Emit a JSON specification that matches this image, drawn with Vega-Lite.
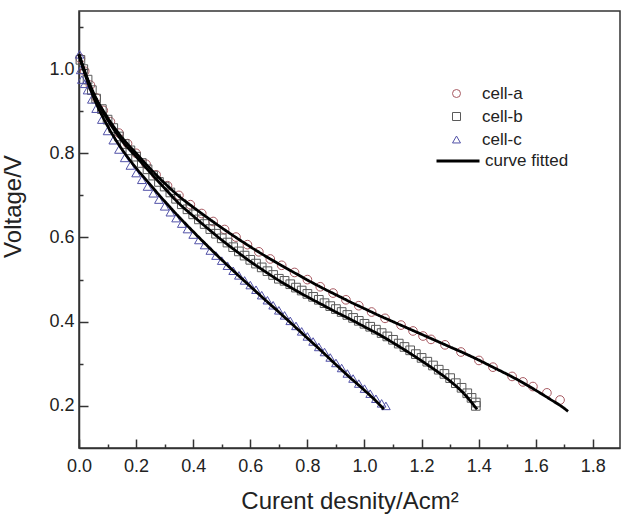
{
"$schema": "https://vega.github.io/schema/vega-lite/v6.json",
"width": 541, "height": 437,
"autosize": {"type": "none"},
"padding": {"left": 79, "top": 11, "right": 1, "bottom": 67},
"background": "white",
"config": {
  "view": {"stroke": "#333", "strokeWidth": 1.5},
  "font": "Liberation Sans",
  "axis": {"domainColor": "#333", "domainWidth": 1.5, "tickColor": "#333", "tickWidth": 1.5, "labelFont": "Liberation Sans", "labelFontSize": 18, "labelColor": "#222", "titleFont": "Liberation Sans", "titleFontSize": 24, "titleFontWeight": "normal", "titleColor": "#222", "grid": false},
  "legend": {"labelFont": "Liberation Sans", "labelFontSize": 17, "labelColor": "#222", "padding": 0}
},
"datasets": {
 "markers": [
  {"cell":"cell-a","j":0.005,"v":1.025},{"cell":"cell-a","j":0.02,"v":0.995},{"cell":"cell-a","j":0.04,"v":0.962},{"cell":"cell-a","j":0.06,"v":0.932},{"cell":"cell-a","j":0.085,"v":0.902},{"cell":"cell-a","j":0.11,"v":0.875},{"cell":"cell-a","j":0.14,"v":0.848},{"cell":"cell-a","j":0.17,"v":0.823},{"cell":"cell-a","j":0.2,"v":0.8},{"cell":"cell-a","j":0.235,"v":0.774},{"cell":"cell-a","j":0.27,"v":0.749},{"cell":"cell-a","j":0.31,"v":0.723},{"cell":"cell-a","j":0.35,"v":0.7},{"cell":"cell-a","j":0.39,"v":0.678},{"cell":"cell-a","j":0.43,"v":0.657},{"cell":"cell-a","j":0.47,"v":0.638},{"cell":"cell-a","j":0.51,"v":0.619},{"cell":"cell-a","j":0.55,"v":0.601},{"cell":"cell-a","j":0.59,"v":0.583},{"cell":"cell-a","j":0.63,"v":0.566},{"cell":"cell-a","j":0.67,"v":0.549},{"cell":"cell-a","j":0.71,"v":0.534},{"cell":"cell-a","j":0.755,"v":0.517},{"cell":"cell-a","j":0.8,"v":0.5},{"cell":"cell-a","j":0.845,"v":0.483},{"cell":"cell-a","j":0.89,"v":0.468},{"cell":"cell-a","j":0.935,"v":0.452},{"cell":"cell-a","j":0.98,"v":0.438},{"cell":"cell-a","j":1.025,"v":0.423},{"cell":"cell-a","j":1.072,"v":0.408},{"cell":"cell-a","j":1.128,"v":0.392},{"cell":"cell-a","j":1.17,"v":0.378},{"cell":"cell-a","j":1.205,"v":0.366},{"cell":"cell-a","j":1.233,"v":0.358},{"cell":"cell-a","j":1.282,"v":0.345},{"cell":"cell-a","j":1.338,"v":0.328},{"cell":"cell-a","j":1.401,"v":0.308},{"cell":"cell-a","j":1.45,"v":0.292},{"cell":"cell-a","j":1.517,"v":0.27},{"cell":"cell-a","j":1.555,"v":0.257},{"cell":"cell-a","j":1.59,"v":0.246},{"cell":"cell-a","j":1.639,"v":0.231},{"cell":"cell-a","j":1.685,"v":0.214},
  {"cell":"cell-b","j":0.005,"v":1.022},{"cell":"cell-b","j":0.015,"v":1.0},{"cell":"cell-b","j":0.03,"v":0.975},{"cell":"cell-b","j":0.045,"v":0.95},{"cell":"cell-b","j":0.06,"v":0.93},{"cell":"cell-b","j":0.08,"v":0.905},{"cell":"cell-b","j":0.1,"v":0.88},{"cell":"cell-b","j":0.12,"v":0.86},{"cell":"cell-b","j":0.14,"v":0.84},{"cell":"cell-b","j":0.16,"v":0.822},{"cell":"cell-b","j":0.18,"v":0.807},{"cell":"cell-b","j":0.2,"v":0.792},{"cell":"cell-b","j":0.22,"v":0.777},{"cell":"cell-b","j":0.24,"v":0.762},{"cell":"cell-b","j":0.26,"v":0.747},{"cell":"cell-b","j":0.28,"v":0.732},{"cell":"cell-b","j":0.3,"v":0.721},{"cell":"cell-b","j":0.32,"v":0.707},{"cell":"cell-b","j":0.34,"v":0.692},{"cell":"cell-b","j":0.36,"v":0.679},{"cell":"cell-b","j":0.38,"v":0.667},{"cell":"cell-b","j":0.4,"v":0.655},{"cell":"cell-b","j":0.42,"v":0.643},{"cell":"cell-b","j":0.44,"v":0.632},{"cell":"cell-b","j":0.46,"v":0.62},{"cell":"cell-b","j":0.48,"v":0.609},{"cell":"cell-b","j":0.5,"v":0.598},{"cell":"cell-b","j":0.52,"v":0.588},{"cell":"cell-b","j":0.54,"v":0.577},{"cell":"cell-b","j":0.56,"v":0.567},{"cell":"cell-b","j":0.58,"v":0.557},{"cell":"cell-b","j":0.6,"v":0.547},{"cell":"cell-b","j":0.62,"v":0.538},{"cell":"cell-b","j":0.64,"v":0.529},{"cell":"cell-b","j":0.66,"v":0.52},{"cell":"cell-b","j":0.68,"v":0.511},{"cell":"cell-b","j":0.7,"v":0.502},{"cell":"cell-b","j":0.72,"v":0.497},{"cell":"cell-b","j":0.74,"v":0.489},{"cell":"cell-b","j":0.76,"v":0.481},{"cell":"cell-b","j":0.78,"v":0.474},{"cell":"cell-b","j":0.8,"v":0.466},{"cell":"cell-b","j":0.82,"v":0.459},{"cell":"cell-b","j":0.84,"v":0.452},{"cell":"cell-b","j":0.86,"v":0.444},{"cell":"cell-b","j":0.88,"v":0.437},{"cell":"cell-b","j":0.9,"v":0.43},{"cell":"cell-b","j":0.92,"v":0.423},{"cell":"cell-b","j":0.94,"v":0.416},{"cell":"cell-b","j":0.96,"v":0.409},{"cell":"cell-b","j":0.98,"v":0.402},{"cell":"cell-b","j":1.0,"v":0.395},{"cell":"cell-b","j":1.02,"v":0.388},{"cell":"cell-b","j":1.04,"v":0.381},{"cell":"cell-b","j":1.06,"v":0.373},{"cell":"cell-b","j":1.08,"v":0.365},{"cell":"cell-b","j":1.1,"v":0.357},{"cell":"cell-b","j":1.12,"v":0.348},{"cell":"cell-b","j":1.14,"v":0.34},{"cell":"cell-b","j":1.16,"v":0.332},{"cell":"cell-b","j":1.18,"v":0.323},{"cell":"cell-b","j":1.2,"v":0.314},{"cell":"cell-b","j":1.22,"v":0.305},{"cell":"cell-b","j":1.24,"v":0.296},{"cell":"cell-b","j":1.26,"v":0.286},{"cell":"cell-b","j":1.28,"v":0.276},{"cell":"cell-b","j":1.3,"v":0.266},{"cell":"cell-b","j":1.32,"v":0.254},{"cell":"cell-b","j":1.34,"v":0.243},{"cell":"cell-b","j":1.36,"v":0.23},{"cell":"cell-b","j":1.375,"v":0.219},{"cell":"cell-b","j":1.39,"v":0.208},{"cell":"cell-b","j":1.39,"v":0.2},
  {"cell":"cell-c","j":0.002,"v":1.035},{"cell":"cell-c","j":0.006,"v":0.998},{"cell":"cell-c","j":0.01,"v":0.975},{"cell":"cell-c","j":0.02,"v":0.965},{"cell":"cell-c","j":0.03,"v":0.95},{"cell":"cell-c","j":0.045,"v":0.928},{"cell":"cell-c","j":0.06,"v":0.906},{"cell":"cell-c","j":0.08,"v":0.88},{"cell":"cell-c","j":0.1,"v":0.853},{"cell":"cell-c","j":0.12,"v":0.831},{"cell":"cell-c","j":0.14,"v":0.809},{"cell":"cell-c","j":0.16,"v":0.789},{"cell":"cell-c","j":0.18,"v":0.771},{"cell":"cell-c","j":0.2,"v":0.753},{"cell":"cell-c","j":0.22,"v":0.737},{"cell":"cell-c","j":0.24,"v":0.721},{"cell":"cell-c","j":0.26,"v":0.705},{"cell":"cell-c","j":0.28,"v":0.69},{"cell":"cell-c","j":0.3,"v":0.674},{"cell":"cell-c","j":0.32,"v":0.66},{"cell":"cell-c","j":0.34,"v":0.646},{"cell":"cell-c","j":0.36,"v":0.633},{"cell":"cell-c","j":0.38,"v":0.62},{"cell":"cell-c","j":0.4,"v":0.607},{"cell":"cell-c","j":0.42,"v":0.594},{"cell":"cell-c","j":0.44,"v":0.582},{"cell":"cell-c","j":0.46,"v":0.569},{"cell":"cell-c","j":0.48,"v":0.557},{"cell":"cell-c","j":0.5,"v":0.545},{"cell":"cell-c","j":0.52,"v":0.533},{"cell":"cell-c","j":0.54,"v":0.521},{"cell":"cell-c","j":0.56,"v":0.51},{"cell":"cell-c","j":0.58,"v":0.498},{"cell":"cell-c","j":0.6,"v":0.487},{"cell":"cell-c","j":0.62,"v":0.476},{"cell":"cell-c","j":0.64,"v":0.463},{"cell":"cell-c","j":0.66,"v":0.451},{"cell":"cell-c","j":0.68,"v":0.439},{"cell":"cell-c","j":0.7,"v":0.427},{"cell":"cell-c","j":0.72,"v":0.415},{"cell":"cell-c","j":0.74,"v":0.402},{"cell":"cell-c","j":0.76,"v":0.39},{"cell":"cell-c","j":0.78,"v":0.377},{"cell":"cell-c","j":0.8,"v":0.365},{"cell":"cell-c","j":0.82,"v":0.353},{"cell":"cell-c","j":0.84,"v":0.34},{"cell":"cell-c","j":0.86,"v":0.328},{"cell":"cell-c","j":0.88,"v":0.315},{"cell":"cell-c","j":0.9,"v":0.302},{"cell":"cell-c","j":0.92,"v":0.29},{"cell":"cell-c","j":0.94,"v":0.277},{"cell":"cell-c","j":0.96,"v":0.265},{"cell":"cell-c","j":0.98,"v":0.253},{"cell":"cell-c","j":1.0,"v":0.241},{"cell":"cell-c","j":1.02,"v":0.229},{"cell":"cell-c","j":1.04,"v":0.217},{"cell":"cell-c","j":1.06,"v":0.206},{"cell":"cell-c","j":1.075,"v":0.2}
 ],
 "fits": [
  {"cell":"cell-a","fit":"curve fitted","j":0,"v":1.035},{"cell":"cell-a","fit":"curve fitted","j":0.02,"v":0.995},{"cell":"cell-a","fit":"curve fitted","j":0.05,"v":0.945},{"cell":"cell-a","fit":"curve fitted","j":0.1,"v":0.885},{"cell":"cell-a","fit":"curve fitted","j":0.15,"v":0.838},{"cell":"cell-a","fit":"curve fitted","j":0.2,"v":0.8},{"cell":"cell-a","fit":"curve fitted","j":0.25,"v":0.763},{"cell":"cell-a","fit":"curve fitted","j":0.3,"v":0.729},{"cell":"cell-a","fit":"curve fitted","j":0.35,"v":0.698},{"cell":"cell-a","fit":"curve fitted","j":0.4,"v":0.672},{"cell":"cell-a","fit":"curve fitted","j":0.45,"v":0.647},{"cell":"cell-a","fit":"curve fitted","j":0.5,"v":0.623},{"cell":"cell-a","fit":"curve fitted","j":0.55,"v":0.6},{"cell":"cell-a","fit":"curve fitted","j":0.6,"v":0.578},{"cell":"cell-a","fit":"curve fitted","j":0.65,"v":0.557},{"cell":"cell-a","fit":"curve fitted","j":0.7,"v":0.537},{"cell":"cell-a","fit":"curve fitted","j":0.75,"v":0.518},{"cell":"cell-a","fit":"curve fitted","j":0.8,"v":0.499},{"cell":"cell-a","fit":"curve fitted","j":0.85,"v":0.481},{"cell":"cell-a","fit":"curve fitted","j":0.9,"v":0.464},{"cell":"cell-a","fit":"curve fitted","j":0.95,"v":0.447},{"cell":"cell-a","fit":"curve fitted","j":1.0,"v":0.431},{"cell":"cell-a","fit":"curve fitted","j":1.05,"v":0.415},{"cell":"cell-a","fit":"curve fitted","j":1.1,"v":0.4},{"cell":"cell-a","fit":"curve fitted","j":1.15,"v":0.385},{"cell":"cell-a","fit":"curve fitted","j":1.2,"v":0.37},{"cell":"cell-a","fit":"curve fitted","j":1.25,"v":0.355},{"cell":"cell-a","fit":"curve fitted","j":1.3,"v":0.34},{"cell":"cell-a","fit":"curve fitted","j":1.35,"v":0.325},{"cell":"cell-a","fit":"curve fitted","j":1.4,"v":0.309},{"cell":"cell-a","fit":"curve fitted","j":1.45,"v":0.292},{"cell":"cell-a","fit":"curve fitted","j":1.5,"v":0.275},{"cell":"cell-a","fit":"curve fitted","j":1.55,"v":0.257},{"cell":"cell-a","fit":"curve fitted","j":1.6,"v":0.237},{"cell":"cell-a","fit":"curve fitted","j":1.65,"v":0.216},{"cell":"cell-a","fit":"curve fitted","j":1.7,"v":0.194},{"cell":"cell-a","fit":"curve fitted","j":1.713,"v":0.187},
  {"cell":"cell-b","fit":"curve fitted","j":0,"v":1.035},{"cell":"cell-b","fit":"curve fitted","j":0.02,"v":0.993},{"cell":"cell-b","fit":"curve fitted","j":0.05,"v":0.942},{"cell":"cell-b","fit":"curve fitted","j":0.1,"v":0.88},{"cell":"cell-b","fit":"curve fitted","j":0.15,"v":0.83},{"cell":"cell-b","fit":"curve fitted","j":0.2,"v":0.792},{"cell":"cell-b","fit":"curve fitted","j":0.25,"v":0.754},{"cell":"cell-b","fit":"curve fitted","j":0.3,"v":0.717},{"cell":"cell-b","fit":"curve fitted","j":0.35,"v":0.681},{"cell":"cell-b","fit":"curve fitted","j":0.4,"v":0.651},{"cell":"cell-b","fit":"curve fitted","j":0.45,"v":0.622},{"cell":"cell-b","fit":"curve fitted","j":0.5,"v":0.594},{"cell":"cell-b","fit":"curve fitted","j":0.55,"v":0.568},{"cell":"cell-b","fit":"curve fitted","j":0.6,"v":0.543},{"cell":"cell-b","fit":"curve fitted","j":0.65,"v":0.52},{"cell":"cell-b","fit":"curve fitted","j":0.7,"v":0.498},{"cell":"cell-b","fit":"curve fitted","j":0.75,"v":0.478},{"cell":"cell-b","fit":"curve fitted","j":0.8,"v":0.459},{"cell":"cell-b","fit":"curve fitted","j":0.85,"v":0.441},{"cell":"cell-b","fit":"curve fitted","j":0.9,"v":0.423},{"cell":"cell-b","fit":"curve fitted","j":0.95,"v":0.406},{"cell":"cell-b","fit":"curve fitted","j":1.0,"v":0.388},{"cell":"cell-b","fit":"curve fitted","j":1.05,"v":0.37},{"cell":"cell-b","fit":"curve fitted","j":1.1,"v":0.35},{"cell":"cell-b","fit":"curve fitted","j":1.15,"v":0.329},{"cell":"cell-b","fit":"curve fitted","j":1.2,"v":0.307},{"cell":"cell-b","fit":"curve fitted","j":1.25,"v":0.284},{"cell":"cell-b","fit":"curve fitted","j":1.3,"v":0.259},{"cell":"cell-b","fit":"curve fitted","j":1.35,"v":0.228},{"cell":"cell-b","fit":"curve fitted","j":1.394,"v":0.192},
  {"cell":"cell-c","fit":"curve fitted","j":0,"v":1.035},{"cell":"cell-c","fit":"curve fitted","j":0.02,"v":0.99},{"cell":"cell-c","fit":"curve fitted","j":0.05,"v":0.935},{"cell":"cell-c","fit":"curve fitted","j":0.1,"v":0.865},{"cell":"cell-c","fit":"curve fitted","j":0.15,"v":0.81},{"cell":"cell-c","fit":"curve fitted","j":0.2,"v":0.765},{"cell":"cell-c","fit":"curve fitted","j":0.25,"v":0.725},{"cell":"cell-c","fit":"curve fitted","j":0.3,"v":0.686},{"cell":"cell-c","fit":"curve fitted","j":0.35,"v":0.649},{"cell":"cell-c","fit":"curve fitted","j":0.4,"v":0.614},{"cell":"cell-c","fit":"curve fitted","j":0.45,"v":0.58},{"cell":"cell-c","fit":"curve fitted","j":0.5,"v":0.547},{"cell":"cell-c","fit":"curve fitted","j":0.55,"v":0.515},{"cell":"cell-c","fit":"curve fitted","j":0.6,"v":0.484},{"cell":"cell-c","fit":"curve fitted","j":0.65,"v":0.453},{"cell":"cell-c","fit":"curve fitted","j":0.7,"v":0.423},{"cell":"cell-c","fit":"curve fitted","j":0.75,"v":0.392},{"cell":"cell-c","fit":"curve fitted","j":0.8,"v":0.361},{"cell":"cell-c","fit":"curve fitted","j":0.85,"v":0.33},{"cell":"cell-c","fit":"curve fitted","j":0.9,"v":0.298},{"cell":"cell-c","fit":"curve fitted","j":0.95,"v":0.267},{"cell":"cell-c","fit":"curve fitted","j":1.0,"v":0.237},{"cell":"cell-c","fit":"curve fitted","j":1.05,"v":0.205},{"cell":"cell-c","fit":"curve fitted","j":1.068,"v":0.192}
 ]
},
"encoding": {
  "x": {"field": "j", "type": "quantitative", "scale": {"domain": [0, 1.895], "nice": false, "zero": false},
        "axis": {"title": "Curent desnity/Acm²", "values": [0,0.1,0.2,0.3,0.4,0.5,0.6,0.7,0.8,0.9,1.0,1.1,1.2,1.3,1.4,1.5,1.6,1.7,1.8],
                 "labelExpr": "round(datum.value*10) % 2 == 0 ? format(datum.value, '.1f') : ''",
                 "tickSize": {"condition": {"test": "round(datum.value*10) % 2 == 0", "value": -9}, "value": -4},
                 "labelPadding": 18, "labelFlush": false, "titleBaseline": "alphabetic", "titleY": 60}},
  "y": {"field": "v", "type": "quantitative", "scale": {"domain": [0.1, 1.138], "nice": false, "zero": false},
        "axis": {"title": "Voltage/V", "values": [0.2,0.3,0.4,0.5,0.6,0.7,0.8,0.9,1.0,1.1],
                 "labelExpr": "round(datum.value*10) % 2 == 0 ? format(datum.value, '.1f') : ''",
                 "tickSize": {"condition": {"test": "round(datum.value*10) % 2 == 0", "value": -9}, "value": -4},
                 "labelPadding": 14, "labelFlush": false, "titleBaseline": "alphabetic", "titleX": -59, "titleY": 195, "titleAlign": "center", "titleAngle": -90}}
},
"layer": [
  {"data": {"name": "markers"},
   "mark": {"type": "point", "filled": false, "size": 75, "strokeWidth": 1, "opacity": 1},
   "encoding": {
     "shape": {"field": "cell", "type": "nominal", "scale": {"domain": ["cell-a","cell-b","cell-c"], "range": ["circle","square","triangle-up"]},
               "legend": {"orient": "none", "legendX": 369, "legendY": 74, "title": null, "symbolSize": 64, "symbolStrokeWidth": 1, "labelOffset": 17, "rowPadding": 5, "symbolFillColor": "transparent"}},
     "stroke": {"field": "cell", "type": "nominal", "scale": {"domain": ["cell-a","cell-b","cell-c"], "range": ["#a85a62","#5a5a5a","#5252a8"]},
               "legend": {"orient": "none", "legendX": 369, "legendY": 74, "title": null, "symbolSize": 64, "symbolStrokeWidth": 1, "labelOffset": 17, "rowPadding": 5, "symbolFillColor": "transparent"}}
   }},
  {"data": {"name": "fits"},
   "mark": {"type": "line", "color": "black", "strokeWidth": 2.8, "interpolate": "monotone"},
   "encoding": {
     "detail": {"field": "cell", "type": "nominal"},
     "strokeDash": {"field": "fit", "type": "nominal", "scale": {"domain": ["curve fitted"], "range": [[1, 0]]},
                    "legend": {"orient": "none", "legendX": 356, "legendY": 127, "title": null, "symbolType": "stroke", "symbolSize": 1849, "symbolStrokeWidth": 3, "symbolStrokeColor": "black", "labelOffset": 4}}
   }}
]
}
